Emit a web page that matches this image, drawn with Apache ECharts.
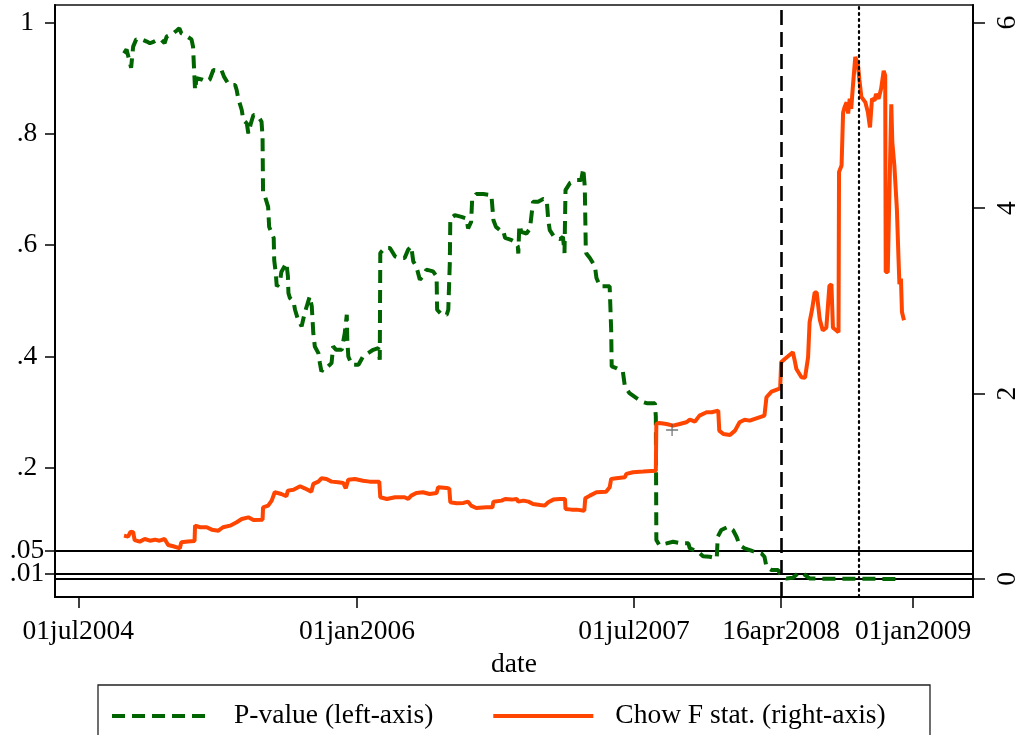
<!DOCTYPE html>
<html>
<head>
<meta charset="utf-8">
<script src="https://cdn.jsdelivr.net/npm/echarts@6/dist/echarts.min.js"></script>
<style>html,body{margin:0;padding:0;background:#fff;}#c{width:1018px;height:735px;}</style>
</head>
<body>
<div id="c"></div>
<script>
// P-value (left axis) [date, value]
const pValue = [
['2004-09-29',0.945],['2004-10-04',0.952],['2004-10-13',0.919],['2004-10-17',0.957],['2004-10-23',0.970],
['2004-11-03',0.970],['2004-11-13',0.966],['2004-11-19',0.963],['2004-11-27',0.966],['2004-12-05',0.970],
['2004-12-12',0.969],['2004-12-18',0.963],['2004-12-22',0.975],['2005-01-04',0.981],['2005-01-11',0.986],
['2005-01-16',0.990],['2005-01-20',0.981],['2005-01-30',0.976],['2005-02-09',0.970],['2005-02-12',0.957],
['2005-02-16',0.879],['2005-02-19',0.900],['2005-03-01',0.898],['2005-03-11',0.894],['2005-03-17',0.898],
['2005-03-24',0.915],['2005-04-03',0.914],['2005-04-09',0.915],['2005-04-14',0.903],['2005-04-22',0.891],
['2005-04-29',0.888],['2005-05-06',0.888],['2005-05-09',0.879],['2005-05-12',0.864],['2005-05-19',0.843],
['2005-05-22',0.825],['2005-05-29',0.819],['2005-06-01',0.801],['2005-06-06',0.819],['2005-06-11',0.834],
['2005-06-17',0.834],['2005-06-23',0.828],['2005-06-27',0.822],['2005-06-29',0.795],['2005-06-30',0.693],
['2005-07-04',0.687],['2005-07-07',0.684],['2005-07-10',0.669],['2005-07-12',0.633],['2005-07-17',0.621],
['2005-07-21',0.613],['2005-07-22',0.573],['2005-07-25',0.550],['2005-07-27',0.526],['2005-08-02',0.532],
['2005-08-05',0.552],['2005-08-15',0.568],['2005-08-18',0.544],['2005-08-19',0.514],['2005-08-22',0.505],
['2005-08-29',0.499],['2005-09-01',0.484],['2005-09-07',0.466],['2005-09-14',0.454],['2005-09-20',0.478],
['2005-09-30',0.508],['2005-10-04',0.490],['2005-10-07',0.442],['2005-10-10',0.418],['2005-10-17',0.406],
['2005-10-20',0.388],['2005-10-23',0.373],['2005-10-30',0.382],['2005-11-05',0.382],['2005-11-12',0.388],
['2005-11-15',0.418],['2005-11-21',0.412],['2005-12-02',0.412],['2005-12-08',0.442],['2005-12-12',0.475],
['2005-12-13',0.430],['2005-12-15',0.400],['2005-12-22',0.385],['2006-01-04',0.385],['2006-01-13',0.400],
['2006-01-23',0.406],['2006-02-02',0.412],['2006-02-12',0.415],['2006-02-15',0.394],['2006-02-16',0.586],
['2006-02-25',0.595],['2006-03-07',0.595],['2006-03-17',0.580],['2006-03-26',0.577],['2006-04-05',0.577],
['2006-04-12',0.592],['2006-04-18',0.598],['2006-04-22',0.571],['2006-04-28',0.562],['2006-05-05',0.538],
['2006-05-11',0.544],['2006-05-18',0.556],['2006-05-31',0.553],['2006-06-07',0.544],['2006-06-08',0.484],
['2006-06-17',0.475],['2006-06-27',0.475],['2006-06-30',0.484],['2006-07-03',0.568],['2006-07-04',0.648],
['2006-07-13',0.654],['2006-07-26',0.651],['2006-08-05',0.648],['2006-08-08',0.630],['2006-08-14',0.642],
['2006-08-16',0.681],['2006-08-24',0.692],['2006-09-07',0.692],['2006-09-23',0.690],['2006-09-27',0.645],
['2006-10-02',0.633],['2006-10-10',0.627],['2006-10-16',0.627],['2006-10-20',0.613],['2006-11-02',0.609],
['2006-11-08',0.606],['2006-11-14',0.598],['2006-11-15',0.585],['2006-11-17',0.636],['2006-11-21',0.624],
['2006-12-01',0.621],['2006-12-08',0.630],['2006-12-14',0.678],['2006-12-24',0.678],['2007-01-03',0.683],
['2007-01-10',0.681],['2007-01-13',0.645],['2007-01-16',0.627],['2007-01-26',0.613],['2007-02-05',0.611],
['2007-02-11',0.615],['2007-02-14',0.586],['2007-02-16',0.699],['2007-02-25',0.712],['2007-03-10',0.717],
['2007-03-19',0.717],['2007-03-23',0.738],['2007-03-26',0.705],['2007-03-28',0.591],['2007-03-29',0.585],
['2007-04-05',0.577],['2007-04-15',0.562],['2007-04-18',0.541],['2007-04-25',0.526],['2007-05-14',0.526],
['2007-05-17',0.448],['2007-05-18',0.382],['2007-05-27',0.379],['2007-06-09',0.373],['2007-06-13',0.346],
['2007-06-22',0.334],['2007-07-06',0.325],['2007-07-16',0.319],['2007-07-26',0.316],['2007-08-11',0.316],
['2007-08-13',0.292],['2007-08-14',0.070],['2007-08-20',0.061],['2007-09-03',0.064],['2007-09-16',0.067],
['2007-10-03',0.064],['2007-10-16',0.064],['2007-10-19',0.055],['2007-11-04',0.049],['2007-11-14',0.041],
['2007-11-27',0.040],['2007-12-11',0.037],['2007-12-13',0.076],['2007-12-20',0.088],['2008-01-03',0.094],
['2008-01-12',0.088],['2008-01-19',0.076],['2008-01-25',0.061],['2008-02-04',0.055],['2008-02-20',0.050],
['2008-03-08',0.046],['2008-03-14',0.040],['2008-03-18',0.022],['2008-03-28',0.016],['2008-04-10',0.016],
['2008-04-16',0.005],['2008-04-26',0.001],['2008-05-09',0.002],['2008-05-19',0.010],['2008-05-29',0.010],
['2008-06-11',0.001],['2008-07-15',0.0005],['2008-09-01',0.0003],['2008-10-15',0.0002],['2008-12-02',0.0001]
];

// Chow F statistic (right axis) [date, value]
const chowF = [
['2004-09-29',0.468],['2004-10-07',0.457],['2004-10-12',0.511],['2004-10-17',0.504],['2004-10-20',0.420],
['2004-10-30',0.403],['2004-11-09',0.431],['2004-11-19',0.413],['2004-11-29',0.424],['2004-12-08',0.413],
['2004-12-18',0.431],['2004-12-25',0.367],['2005-01-04',0.353],['2005-01-17',0.331],['2005-01-20',0.396],
['2005-02-02',0.403],['2005-02-15',0.410],['2005-02-16',0.575],['2005-02-26',0.558],['2005-03-11',0.558],
['2005-03-21',0.532],['2005-04-03',0.521],['2005-04-12',0.558],['2005-04-26',0.575],['2005-05-09',0.612],
['2005-05-19',0.647],['2005-06-01',0.665],['2005-06-11',0.636],['2005-06-29',0.640],['2005-06-30',0.773],
['2005-07-10',0.791],['2005-07-17',0.845],['2005-07-23',0.935],['2005-08-05',0.917],['2005-08-15',0.892],
['2005-08-18',0.953],['2005-08-29',0.963],['2005-09-11',1.000],['2005-09-20',0.978],['2005-10-03',0.942],
['2005-10-07',1.025],['2005-10-17',1.050],['2005-10-23',1.086],['2005-11-02',1.079],['2005-11-12',1.050],
['2005-11-25',1.043],['2005-12-05',1.036],['2005-12-10',0.978],['2005-12-15',1.071],['2005-12-28',1.079],
['2006-01-13',1.060],['2006-01-26',1.050],['2006-02-14',1.050],['2006-02-16',0.881],['2006-03-01',0.863],
['2006-03-17',0.881],['2006-04-05',0.881],['2006-04-12',0.863],['2006-04-18',0.899],['2006-04-28',0.928],
['2006-05-11',0.935],['2006-05-24',0.917],['2006-06-07',0.928],['2006-06-10',0.989],['2006-06-27',0.982],
['2006-07-02',0.975],['2006-07-04',0.827],['2006-07-16',0.816],['2006-07-30',0.820],['2006-08-08',0.834],
['2006-08-14',0.791],['2006-08-24',0.766],['2006-09-13',0.773],['2006-09-25',0.773],['2006-09-27',0.834],
['2006-10-13',0.845],['2006-10-20',0.863],['2006-11-02',0.856],['2006-11-12',0.863],['2006-11-15',0.834],
['2006-11-25',0.845],['2006-12-05',0.834],['2006-12-14',0.809],['2006-12-28',0.798],['2007-01-06',0.791],
['2007-01-13',0.827],['2007-01-23',0.856],['2007-02-05',0.863],['2007-02-15',0.863],['2007-02-16',0.755],
['2007-02-28',0.748],['2007-03-10',0.748],['2007-03-25',0.737],['2007-03-27',0.871],['2007-04-05',0.899],
['2007-04-18',0.935],['2007-05-07',0.942],['2007-05-14',0.989],['2007-05-17',1.079],['2007-05-27',1.086],
['2007-06-13',1.097],['2007-06-16',1.133],['2007-06-29',1.151],['2007-07-19',1.158],['2007-08-13',1.168],
['2007-08-14',1.672],['2007-08-20',1.683],['2007-09-03',1.672],['2007-09-16',1.654],['2007-09-29',1.672],
['2007-10-12',1.690],['2007-10-19',1.718],['2007-10-29',1.697],['2007-11-07',1.762],['2007-11-21',1.798],
['2007-12-01',1.798],['2007-12-14',1.816],['2007-12-16',1.600],['2007-12-24',1.564],['2008-01-06',1.553],
['2008-01-16',1.600],['2008-01-25',1.690],['2008-02-04',1.718],['2008-02-14',1.708],['2008-02-27',1.733],
['2008-03-14',1.762],['2008-03-18',1.960],['2008-03-28',2.021],['2008-04-14',2.057],['2008-04-16',2.337],
['2008-04-23',2.373],['2008-05-09',2.445],['2008-05-12',2.373],['2008-05-16',2.265],['2008-05-26',2.176],
['2008-06-02',2.170],['2008-06-08',2.390],['2008-06-11',2.770],['2008-06-16',2.910],['2008-06-21',3.090],
['2008-06-25',3.090],['2008-07-01',2.800],['2008-07-07',2.680],['2008-07-14',2.710],['2008-07-20',3.160],
['2008-07-24',3.180],['2008-07-27',2.710],['2008-08-03',2.680],['2008-08-07',2.660],['2008-08-08',4.390],
['2008-08-13',4.460],['2008-08-16',5.030],['2008-08-19',5.090],['2008-08-23',5.140],['2008-08-26',5.020],
['2008-08-29',5.180],['2008-09-01',5.070],['2008-09-04',5.290],['2008-09-09',5.630],['2008-09-14',5.560],
['2008-09-17',5.390],['2008-09-21',5.200],['2008-09-24',5.200],['2008-09-29',5.140],['2008-10-04',5.030],
['2008-10-08',4.870],['2008-10-12',5.180],['2008-10-17',5.160],['2008-10-20',5.230],['2008-10-25',5.180],
['2008-10-30',5.290],['2008-11-04',5.480],['2008-11-07',5.430],['2008-11-08',3.310],['2008-11-12',3.310],
['2008-11-14',3.830],['2008-11-17',3.830],['2008-11-19',5.120],['2008-11-21',4.710],['2008-11-25',4.460],
['2008-11-30',3.990],['2008-12-03',3.490],['2008-12-05',3.180],['2008-12-08',3.240],['2008-12-10',2.880],
['2008-12-14',2.790]
];

// single marked point (right axis)
const markedPoint = [['2007-09-14', 1.607]];

const xTickDates = ['2004-07-01','2006-01-01','2007-07-01','2008-04-16','2009-01-01'];
const xRange = ['2004-05-16','2009-04-29'];
const leftTicks = [0.01, 0.05, 0.2, 0.4, 0.6, 0.8, 1];
const leftTicksMain = [0.05, 0.2, 0.4, 0.6, 0.8, 1];
const leftTicksExtra = [0.01];
const rightTicks = [0, 2, 4, 6];
const refLevels = [0.05, 0.01, 0];
const dashedEvent = '2008-04-16';
const dottedEvent = '2008-09-15';
const seriesNames = ['P-value (left-axis)', 'Chow F stat. (right-axis)'];

const MONTHS = ['jan','feb','mar','apr','may','jun','jul','aug','sep','oct','nov','dec'];
const ts = d => Date.parse(d);
const toXY = arr => arr.map(([d, v]) => [ts(d), v]);
function fmtDate(v) {
  const d = new Date(v);
  return String(d.getUTCDate()).padStart(2, '0') + MONTHS[d.getUTCMonth()] + d.getUTCFullYear();
}
const fmtP = v => (v === 1 ? '1' : String(v).replace(/^0/, ''));
const FONT = 'Liberation Serif';
const FS = 27.5;
const LEFT_MIN = -0.0324, LEFT_MAX = 1.0318;

const chart = echarts.init(document.getElementById('c'), null, {renderer: 'canvas'});
chart.setOption({
  animation: false,
  backgroundColor: '#fff',
  textStyle: {fontFamily: FONT},
  grid: {left: 55, right: 45, top: 5, bottom: 138, show: true, borderColor: '#111', borderWidth: 1.5,
         containLabel: false, outerBoundsMode: 'none'},
  xAxis: {
    type: 'value',
    min: ts(xRange[0]), max: ts(xRange[1]),
    name: 'date', nameLocation: 'middle', nameGap: 46,
    nameTextStyle: {fontFamily: FONT, fontSize: FS, color: '#000'},
    axisLine: {show: true, onZero: false, lineStyle: {color: '#000', width: 2}},
    axisTick: {show: true, length: 11, lineStyle: {color: '#000', width: 1.5},
               customValues: xTickDates.map(ts)},
    axisLabel: {show: true, margin: 21, fontFamily: FONT, fontSize: FS, color: '#000', hideOverlap: false,
                customValues: xTickDates.map(ts), formatter: v => fmtDate(v)},
    splitLine: {show: false}
  },
  yAxis: [{
    type: 'value', position: 'left',
    min: LEFT_MIN, max: LEFT_MAX,
    axisLine: {show: true, onZero: false, lineStyle: {color: '#000', width: 2}},
    axisTick: {show: true, length: 10, lineStyle: {color: '#000', width: 1.5}, customValues: leftTicks},
    axisLabel: {show: true, margin: 28, align: 'center', fontFamily: FONT, fontSize: FS, color: '#000',
                hideOverlap: false, customValues: leftTicksMain, formatter: fmtP},
    splitLine: {show: false}
  }, {
    type: 'value', position: 'right',
    min: -0.1944, max: 6.1908,
    axisLine: {show: true, onZero: false, lineStyle: {color: '#000', width: 2}},
    axisTick: {show: true, length: 12, lineStyle: {color: '#000', width: 1.5}, customValues: rightTicks},
    axisLabel: {show: true, margin: 21, rotate: 90, fontFamily: FONT, fontSize: FS, color: '#000',
                customValues: rightTicks, formatter: v => String(v)},
    splitLine: {show: false}
  }, {
    type: 'value', position: 'left', offset: 0,
    min: LEFT_MIN, max: LEFT_MAX,
    axisLine: {show: false},
    axisTick: {show: false},
    axisLabel: {show: true, margin: 28, align: 'center', fontFamily: FONT, fontSize: FS, color: '#000',
                customValues: leftTicksExtra, formatter: fmtP},
    splitLine: {show: false}
  }],
  legend: {
    data: seriesNames,
    left: 110, top: 702,
    itemWidth: 100, itemHeight: 14, itemGap: 58,
    padding: 0,
    itemStyle: {opacity: 0, color: 'rgba(0,0,0,0)', borderWidth: 0},
    lineStyle: {width: 4},
    textStyle: {fontFamily: FONT, fontSize: FS, color: '#000', padding: [0, 0, 0, 17]},
    selectedMode: false
  },
  graphic: [{
    type: 'rect', silent: true, z: 0,
    shape: {x: 98, y: 685, width: 832, height: 70},
    style: {fill: 'none', stroke: '#222', lineWidth: 1.3}
  }],
  series: [{
    name: seriesNames[0], type: 'line', yAxisIndex: 0,
    data: toXY(pValue), symbol: 'none', showSymbol: false, z: 2,
    lineStyle: {color: '#006400', width: 4, type: [13, 7]},
    itemStyle: {color: '#006400'},
    emphasis: {disabled: true},
    markLine: {
      silent: true, symbol: 'none', z: 1, animation: false,
      label: {show: false},
      lineStyle: {color: '#000', width: 2, type: 'solid'},
      data: refLevels.map(v => ({yAxis: v}))
    }
  }, {
    name: seriesNames[1], type: 'line', yAxisIndex: 1,
    data: toXY(chowF), symbol: 'none', showSymbol: false, z: 3,
    lineStyle: {color: '#FF4500', width: 4, type: 'solid'},
    itemStyle: {color: '#FF4500'},
    emphasis: {disabled: true},
    markLine: {
      silent: true, symbol: 'none', animation: false,
      label: {show: false},
      data: [
        {xAxis: ts(dashedEvent), lineStyle: {color: '#000', width: 2.6, type: [15, 7]}},
        {xAxis: ts(dottedEvent), lineStyle: {color: '#000', width: 2.2, type: [2, 4], cap: 'round'}}
      ]
    }
  }, {
    name: 'marker', type: 'scatter', yAxisIndex: 1,
    data: toXY(markedPoint), z: 4,
    symbol: 'path://M0,5L10,5M5,0L5,10', symbolSize: [12, 12],
    itemStyle: {color: 'rgba(0,0,0,0)', borderColor: '#555', borderWidth: 1.3},
    emphasis: {disabled: true}, silent: true
  }]
});
</script>
</body>
</html>
